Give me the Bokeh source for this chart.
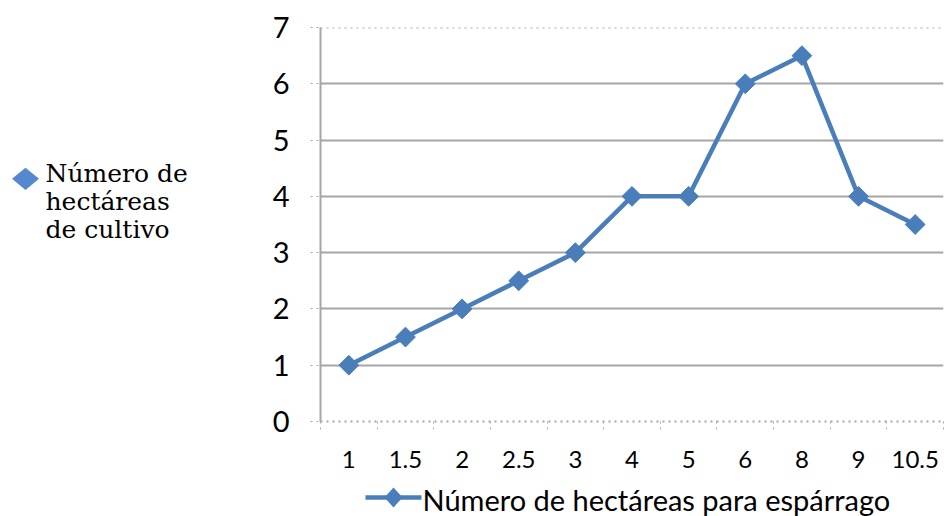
import numpy as np
from bokeh.plotting import figure
from bokeh.layouts import row, column
from bokeh.models import (ColumnDataSource, FixedTicker, Range1d, Span, Label,
                          PolyAnnotation, BoxAnnotation)
from bokeh.embed import file_html
from bokeh.resources import INLINE

# Data
categories = ["1", "1.5", "2", "2.5", "3", "4", "5", "6", "8", "9", "10.5"]
hectareas = [1, 1.5, 2, 2.5, 3, 4, 4, 6, 6.5, 4, 3.5]
y_ticks = [0, 1, 2, 3, 4, 5, 6, 7]

series_name = "Número de hectáreas para espárrago"
side_label = ["Número de", "hectáreas", "de cultivo"]

BLUE = "#4A7EBB"
KEY_BLUE = "#5588CF"
GRID = "#A6A6A6"
FONT = "Lato"

W, H = 944, 516
LEFT_W = 250          # side key panel
KEY_H = 37            # strip under the chart holding the series key
MAIN_W, MAIN_H = W - LEFT_W, H - KEY_H
TEXT_SHIFT = 10       # alphabetic-baseline correction for Label text
SIDE_DY = 6           # vertical nudge of the side key


def blank_panel(w, h):
    """A bare figure whose data units are its own pixels (y grows downward)."""
    f = figure(width=w, height=h, output_backend="svg", toolbar_location=None,
               x_range=Range1d(0, w), y_range=Range1d(h, 0),
               x_axis_location=None, y_axis_location=None,
               min_border_left=0, min_border_right=0,
               min_border_top=0, min_border_bottom=0)
    f.grid.visible = False
    f.outline_line_color = None
    return f


# ---- main chart -------------------------------------------------------------
n = len(categories)
x_pos = np.arange(n) + 0.5
src = ColumnDataSource(dict(x=x_pos, y=hectareas))

p = figure(width=MAIN_W, height=MAIN_H, output_backend="svg", toolbar_location=None,
           x_range=Range1d(0, n), y_range=Range1d(0, 7),
           min_border_left=320 - LEFT_W, min_border_right=1, min_border_top=27,
           min_border_bottom=MAIN_H - 421)
p.outline_line_color = None

# y axis
p.yaxis.ticker = FixedTicker(ticks=y_ticks)
p.yaxis.axis_line_color = GRID
p.yaxis.axis_line_width = 2
p.yaxis.major_tick_out = 10
p.yaxis.major_tick_in = 0
p.yaxis.major_tick_line_color = GRID
p.yaxis.major_tick_line_dash = "dotted"
p.yaxis.minor_tick_line_color = None
p.yaxis.major_label_text_font = FONT
p.yaxis.major_label_text_font_size = "29px"
p.yaxis.major_label_text_color = "black"
p.yaxis.major_label_standoff = 21

# x axis: labels centred in each slot, ticks on slot boundaries
p.xaxis.ticker = FixedTicker(ticks=list(x_pos), minor_ticks=list(range(n + 1)))
p.xaxis.major_label_overrides = {float(x): c for x, c in zip(x_pos, categories)}
p.xaxis.major_tick_out = 0
p.xaxis.major_tick_in = 0
p.xaxis.minor_tick_out = 8
p.xaxis.minor_tick_in = 0
p.xaxis.minor_tick_line_color = GRID
p.xaxis.minor_tick_line_dash = "dotted"
p.xaxis.axis_line_color = GRID
p.xaxis.axis_line_dash = "dotted"
p.xaxis.axis_line_width = 2
p.xaxis.major_label_text_font = FONT
p.xaxis.major_label_text_font_size = "24px"
p.xaxis.major_label_text_color = "black"
p.xaxis.major_label_standoff = 21

# grid
p.xgrid.grid_line_color = None
p.ygrid.ticker = FixedTicker(ticks=y_ticks[1:-1])
p.ygrid.grid_line_color = GRID
p.ygrid.grid_line_width = 2
p.add_layout(Span(location=y_ticks[-1], dimension="width", line_color=GRID,
                  line_width=2, line_dash="dotted"))

# series
p.line("x", "y", source=src, line_color=BLUE, line_width=4.5)
p.scatter("x", "y", source=src, marker="square", size=14, angle=np.pi / 4,
          fill_color=BLUE, line_color=BLUE)

# ---- series key under the chart (full width strip) ----------------------------
key = blank_panel(W, KEY_H)
kx, ky = 365, 497 - MAIN_H
key.add_layout(BoxAnnotation(left=kx, right=kx + 56, top=ky - 2.2, bottom=ky + 2.2,
                             fill_color=BLUE, fill_alpha=1, line_color=None))
dcx = kx + 28
key.add_layout(PolyAnnotation(xs=[dcx - 9, dcx, dcx + 9, dcx],
                              ys=[ky, ky - 10, ky, ky + 10],
                              fill_color=BLUE, fill_alpha=1, line_color=None))
key.add_layout(Label(x=kx + 57, y=509 - MAIN_H - TEXT_SHIFT, text=series_name,
                     text_font=FONT, text_font_size="29px", text_color="black",
                     text_baseline="alphabetic"))

# ---- side key --------------------------------------------------------------
side = blank_panel(LEFT_W, MAIN_H)
cx, cy, r = 25, 178 + SIDE_DY, 13.5
side.add_layout(PolyAnnotation(xs=[cx - r, cx, cx + r, cx], ys=[cy, cy - r, cy, cy + r],
                               fill_color=KEY_BLUE, fill_alpha=1, line_color=None))
for i, txt in enumerate(side_label):
    side.add_layout(Label(x=45, y=182 + SIDE_DY + 34 * i - TEXT_SHIFT, text=txt,
                          text_font="DejaVu Serif", text_font_size="25px",
                          text_color="black", text_baseline="alphabetic"))

layout = column(row(side, p, spacing=0), key, spacing=0)
open("out.html", "w").write(file_html(layout, INLINE))
